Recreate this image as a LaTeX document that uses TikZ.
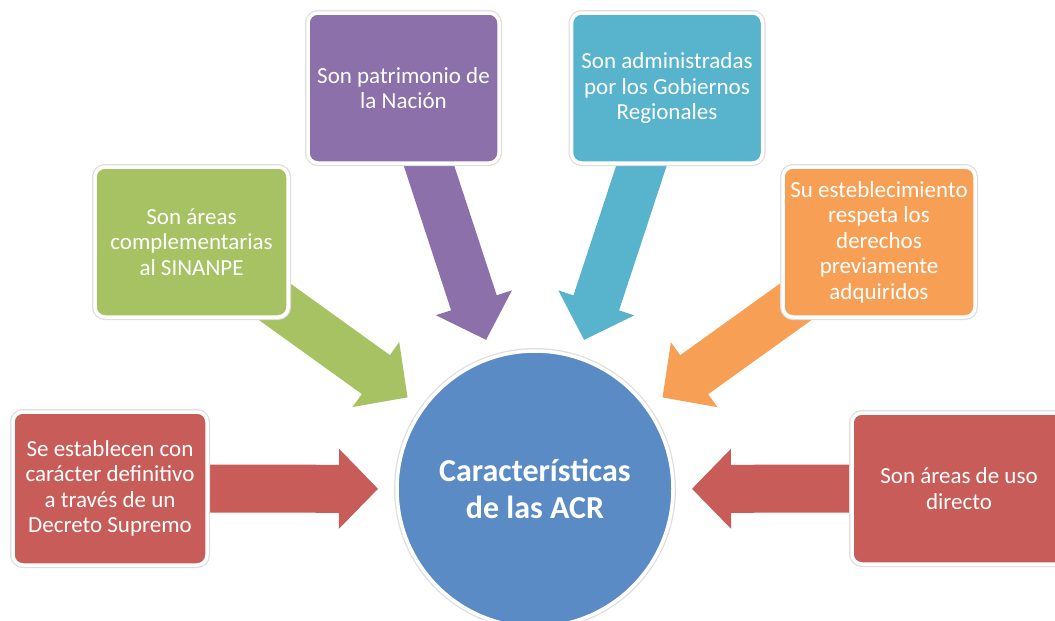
\documentclass[tikz,border=0pt]{standalone}
\usepackage{fontspec}
\setmainfont{Carlito}
\usetikzlibrary{calc,backgrounds}
\definecolor{cred}{RGB}{199,92,88}
\definecolor{cgreen}{RGB}{166,194,99}
\definecolor{cpurple}{RGB}{139,112,169}
\definecolor{ccyan}{RGB}{88,180,205}
\definecolor{corange}{RGB}{247,160,85}
\definecolor{cblue}{RGB}{90,139,197}
\tikzset{
  box/.style={rectangle, rounded corners=10pt, draw=white, line width=3.5pt,
    preaction={draw=black!13, line width=6pt},
    text=white, align=center, inner sep=0pt,
    font=\fontsize{23}{25.5}\selectfont},
  hub/.style={circle, fill=cblue, draw=white, line width=3.5pt,
    preaction={draw=black!13, line width=6pt},
    minimum size=276pt, inner sep=0pt, text=white, align=center,
    font=\bfseries\fontsize{32}{37}\selectfont},
}
\newcommand\blockarrow[2]{%
  \coordinate (#2t) at ($(C.center)!157pt!(#2.center)$);
  \coordinate (#2h) at ($(#2t)!39pt!(#2.center)$);
  \fill[#1] ($(#2.center)!24pt!90:(#2t)$) -- ($(#2h)!24pt!90:(#2t)$)
    -- ($(#2h)!40pt!90:(#2t)$) -- (#2t) -- ($(#2h)!40pt!-90:(#2t)$)
    -- ($(#2h)!24pt!-90:(#2t)$) -- ($(#2.center)!24pt!-90:(#2t)$) -- cycle;}
\begin{document}
\begin{tikzpicture}[x=1pt,y=-1pt]
\useasboundingbox (0,0) rectangle (1055,621);
\node[hub] (C) at (535,489) {Características\\de las ACR};
\node[box, fill=cred, minimum width=194pt, minimum height=153pt] (rl) at (110,488.5)
  {Se establecen con\\carácter definitivo\\a través de un\\Decreto Supremo};
\node[box, fill=cgreen, minimum width=193pt, minimum height=150pt] (gr) at (191.5,242)
  {Son áreas\\complementarias\\al SINANPE};
\node[box, fill=cpurple, minimum width=191pt, minimum height=150pt] (pu) at (403.5,88)
  {Son patrimonio de\\la Nación};
\node[box, fill=ccyan, minimum width=191pt, minimum height=150pt] (cy) at (667,88)
  {Son administradas\\por los Gobiernos\\Regionales};
\node[box, fill=corange, minimum width=192pt, minimum height=150pt] (or) at (879,242)
  {Su esteblecimiento\\respeta los\\derechos\\previamente\\adquiridos};
\node[box, fill=cred, minimum width=214pt, minimum height=151pt] (rr) at (959,488.5)
  {Son áreas de uso\\directo};
\begin{pgfonlayer}{background}
\fill[white] (0,0) rectangle (1055,621);
\blockarrow{cred}{rl}
\blockarrow{cgreen}{gr}
\blockarrow{cpurple}{pu}
\blockarrow{ccyan}{cy}
\blockarrow{corange}{or}
\blockarrow{cred}{rr}
\end{pgfonlayer}
\end{tikzpicture}
\end{document}
